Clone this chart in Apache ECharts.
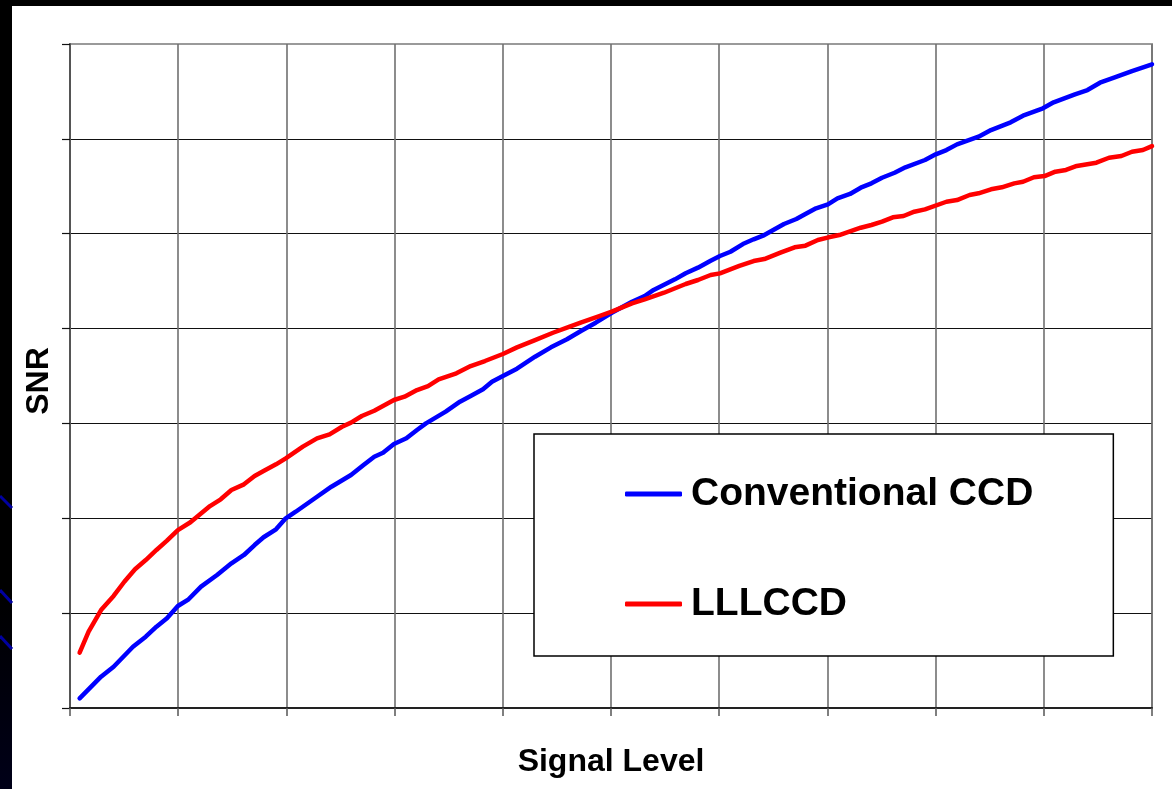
<!DOCTYPE html>
<html>
<head>
<meta charset="utf-8">
<script src="https://cdn.jsdelivr.net/npm/echarts@6/dist/echarts.min.js"></script>
<style>
  html, body { margin: 0; padding: 0; background: #000; }
  #chart { width: 1172px; height: 789px; }
</style>
</head>
<body>
<div id="chart"></div>
<script>
// ---- data (x: signal level in grid units, y: SNR in grid units) ----
const seriesNames = ['Conventional CCD', 'LLLCCD'];

const convX = [0.089, 0.287, 0.403, 0.582, 0.700, 0.799, 0.896, 0.997, 1.096, 1.211, 1.359, 1.492, 1.608, 1.706, 1.789, 1.904, 1.994, 2.086, 2.283, 2.416, 2.597, 2.713, 2.812, 2.893, 2.994, 3.109, 3.207, 3.290, 3.472, 3.604, 3.703, 3.817, 3.900, 4.001, 4.131, 4.298, 4.445, 4.593, 4.726, 4.859, 5.007, 5.194, 5.311, 5.394, 5.591, 5.690, 5.804, 5.921, 6.007, 6.104, 6.219, 6.318, 6.417, 6.599, 6.713, 6.797, 6.895, 7.005, 7.093, 7.209, 7.308, 7.407, 7.505, 7.621, 7.721, 7.902, 8.001, 8.100, 8.198, 8.397, 8.512, 8.694, 8.808, 8.992, 9.091, 9.288, 9.404, 9.519, 9.649, 9.815, 10.0];
const convSNR = [0.102, 0.330, 0.435, 0.646, 0.752, 0.857, 0.946, 1.075, 1.146, 1.279, 1.402, 1.525, 1.613, 1.718, 1.800, 1.884, 2.000, 2.069, 2.227, 2.333, 2.456, 2.562, 2.649, 2.691, 2.783, 2.843, 2.931, 3.001, 3.124, 3.229, 3.289, 3.360, 3.440, 3.500, 3.577, 3.703, 3.802, 3.887, 3.977, 4.062, 4.167, 4.283, 4.343, 4.407, 4.519, 4.583, 4.642, 4.715, 4.765, 4.810, 4.891, 4.941, 4.986, 5.102, 5.155, 5.208, 5.268, 5.310, 5.373, 5.419, 5.485, 5.531, 5.590, 5.643, 5.700, 5.777, 5.837, 5.882, 5.942, 6.023, 6.093, 6.174, 6.244, 6.322, 6.385, 6.470, 6.515, 6.592, 6.645, 6.715, 6.786];

const lllX = [0.089, 0.172, 0.287, 0.403, 0.502, 0.601, 0.700, 0.799, 0.896, 0.997, 1.113, 1.294, 1.393, 1.492, 1.608, 1.706, 1.789, 1.904, 1.994, 2.152, 2.283, 2.399, 2.514, 2.597, 2.697, 2.812, 2.994, 3.092, 3.207, 3.309, 3.407, 3.571, 3.703, 3.835, 4.001, 4.131, 4.298, 4.464, 4.593, 4.726, 4.892, 5.007, 5.194, 5.311, 5.490, 5.690, 5.804, 5.921, 6.007, 6.186, 6.318, 6.417, 6.566, 6.697, 6.797, 6.912, 7.011, 7.110, 7.308, 7.407, 7.505, 7.605, 7.704, 7.803, 7.902, 8.100, 8.198, 8.314, 8.397, 8.512, 8.612, 8.727, 8.808, 8.909, 9.007, 9.107, 9.205, 9.305, 9.486, 9.603, 9.717, 9.815, 9.916, 10.0];
const lllSNR = [0.583, 0.804, 1.033, 1.181, 1.331, 1.462, 1.560, 1.666, 1.764, 1.876, 1.958, 2.129, 2.200, 2.298, 2.358, 2.446, 2.498, 2.569, 2.632, 2.755, 2.843, 2.885, 2.965, 3.008, 3.078, 3.134, 3.247, 3.282, 3.352, 3.394, 3.465, 3.528, 3.605, 3.658, 3.732, 3.802, 3.879, 3.956, 4.009, 4.066, 4.132, 4.178, 4.266, 4.308, 4.378, 4.470, 4.512, 4.565, 4.582, 4.660, 4.712, 4.733, 4.800, 4.857, 4.874, 4.934, 4.962, 4.986, 5.063, 5.092, 5.127, 5.173, 5.187, 5.232, 5.257, 5.337, 5.355, 5.408, 5.426, 5.468, 5.489, 5.531, 5.548, 5.595, 5.608, 5.654, 5.672, 5.714, 5.749, 5.801, 5.819, 5.864, 5.882, 5.924];

const xAxisTitle = 'Signal Level';
const yAxisTitle = 'SNR';
const seriesColors = ['#0000FF', '#FF0000'];

function pairs(xs, ys) { return xs.map((x, i) => [x, ys[i]]); }

const FONT = "'Liberation Sans', Arial, sans-serif";
const chart = echarts.init(document.getElementById('chart'), null, { renderer: 'canvas' });

chart.setOption({
  backgroundColor: '#ffffff',
  animation: false,
  graphic: [
    { type: 'rect', left: 0, top: 0, shape: { width: 1172, height: 6 }, style: { fill: '#000' }, z: 100 },
    { type: 'rect', left: 0, top: 0, shape: { width: 12, height: 789 },
      style: { fill: new echarts.graphic.LinearGradient(0, 0, 0, 1, [
        { offset: 0, color: '#000000' }, { offset: 0.75, color: '#000000' }, { offset: 1, color: '#000018' }]) }, z: 100 },
    { type: 'line', shape: { x1: 0, y1: 496, x2: 12, y2: 508 }, style: { stroke: '#0000a0', lineWidth: 3 }, z: 101 },
    { type: 'line', shape: { x1: 0, y1: 590, x2: 12, y2: 603 }, style: { stroke: '#0000a0', lineWidth: 3 }, z: 101 },
    { type: 'line', shape: { x1: 0, y1: 636, x2: 12, y2: 649 }, style: { stroke: '#0000a0', lineWidth: 3 }, z: 101 }
  ],
  grid: {
    left: 70, right: 20, top: 44, bottom: 81,
    show: true, borderColor: '#9a9a9a', borderWidth: 2, backgroundColor: 'transparent'
  },
  legend: {
    orient: 'vertical',
    left: 534, top: 434,
    backgroundColor: '#ffffff',
    borderColor: '#000000', borderWidth: 1.5,
    padding: [38, 80, 30, 91],
    itemGap: 66,
    itemWidth: 57, itemHeight: 5,
    icon: 'roundRect',
    textStyle: { fontFamily: FONT, fontWeight: 'bold', fontSize: 39, color: '#000', lineHeight: 44, padding: [0, 0, 0, 4] },
    data: seriesNames
  },
  xAxis: {
    type: 'value', min: 0, max: 10, interval: 1,
    name: xAxisTitle, nameLocation: 'middle', nameGap: 38,
    nameTextStyle: { fontFamily: FONT, fontWeight: 'bold', fontSize: 32, color: '#000' },
    axisLine: { show: true, onZero: false, lineStyle: { color: '#222', width: 2 } },
    axisTick: { show: true, length: 8, lineStyle: { color: '#555', width: 1.5 } },
    axisLabel: { show: false },
    splitLine: { show: true, lineStyle: { color: '#707070', width: 1.6 } }
  },
  yAxis: {
    type: 'value', min: 0, max: 7, interval: 1,
    name: yAxisTitle, nameLocation: 'middle', nameGap: 15, nameRotate: 90,
    nameTextStyle: { fontFamily: FONT, fontWeight: 'bold', fontSize: 32, color: '#000', padding: [0, 10, 0, 0] },
    axisLine: { show: true, lineStyle: { color: '#555', width: 2 } },
    axisTick: { show: true, length: 8, lineStyle: { color: '#111', width: 1.2 } },
    axisLabel: { show: false },
    splitLine: { show: true, showMaxLine: false, lineStyle: { color: '#111', width: 1.2 } }
  },
  series: [
    { name: seriesNames[0], type: 'line', data: pairs(convX, convSNR), showSymbol: false, symbol: 'none',
      color: seriesColors[0], lineStyle: { width: 4.5, color: seriesColors[0], cap: 'round', join: 'round' }, z: 3 },
    { name: seriesNames[1], type: 'line', data: pairs(lllX, lllSNR), showSymbol: false, symbol: 'none',
      color: seriesColors[1], lineStyle: { width: 4.5, color: seriesColors[1], cap: 'round', join: 'round' }, z: 4 }
  ]
});
</script>
</body>
</html>
